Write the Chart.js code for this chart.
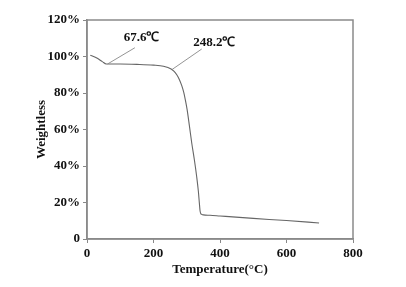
<!DOCTYPE html>
<html>
<head>
<meta charset="utf-8">
<script src="https://cdn.jsdelivr.net/npm/chart.js@4/dist/chart.umd.min.js"></script>
<style>
  html, body { margin: 0; padding: 0; background: #fff; }
  #wrap { width: 406px; height: 287px; }
</style>
</head>
<body>
<div id="wrap"><canvas id="tga" width="406" height="287"></canvas></div>
<script>
// TGA curve
var temps   = [10, 16, 31, 46, 58, 70, 100, 150, 200, 230, 253, 262, 270, 278, 285, 291, 296, 301, 308, 315, 323, 330, 335, 338, 340, 342, 345, 350, 370, 400, 500, 600, 698];
var weights = [100.6, 100.3, 99.0, 97.2, 95.9, 95.9, 95.9, 95.7, 95.3, 94.7, 93.2, 91.8, 90.0, 87.3, 84.0, 80.3, 76.0, 71.0, 62.0, 52.6, 43.3, 34.0, 26.0, 19.5, 15.5, 14.0, 13.5, 13.2, 13.0, 12.6, 11.3, 10.1, 8.8];

var xTicks = [0, 200, 400, 600, 800];
var yTicks = [0, 20, 40, 60, 80, 100, 120];

// annotations: text, point on curve, end of leader line, label centre
var noteText  = ['67.6\u2103', '248.2\u2103'];
var notePoint = [[62, 95.9], [256, 92.9]];
var noteEnd   = [[144, 104.8], [345, 104.1]];
var noteLabel = [[164, 110.2], [383, 107.5]];

var pts = [];
for (var i = 0; i < temps.length; i++) {
    pts.push({x: temps[i], y: weights[i]});
}

var font = 'Liberation Serif, Times New Roman, serif';

var frame = {
    id: 'frame',
    afterDraw: function(chart) {
        var ctx = chart.ctx;
        var a = chart.chartArea;
        ctx.save();
        ctx.strokeStyle = '#8a8a8a';
        ctx.lineWidth = 1.5;
        ctx.strokeRect(a.left, a.top, a.right - a.left, a.bottom - a.top);

        var xs = chart.scales.x, ys = chart.scales.y;
        ctx.strokeStyle = '#888';
        ctx.lineWidth = 0.9;
        ctx.fillStyle = '#111';
        ctx.font = 'bold 13px ' + font;
        ctx.textAlign = 'center';
        ctx.textBaseline = 'middle';
        for (var k = 0; k < noteText.length; k++) {
            ctx.beginPath();
            ctx.moveTo(xs.getPixelForValue(notePoint[k][0]), ys.getPixelForValue(notePoint[k][1]));
            ctx.lineTo(xs.getPixelForValue(noteEnd[k][0]), ys.getPixelForValue(noteEnd[k][1]));
            ctx.stroke();
            ctx.fillText(noteText[k], xs.getPixelForValue(noteLabel[k][0]), ys.getPixelForValue(noteLabel[k][1]));
        }
        ctx.restore();
    }
};

new Chart(document.getElementById('tga').getContext('2d'), {
    type: 'scatter',
    data: {
        datasets: [{
            data: pts,
            showLine: true,
            borderColor: '#666',
            borderWidth: 1.1,
            pointRadius: 0,
            cubicInterpolationMode: 'monotone'
        }]
    },
    options: {
        responsive: false,
        animation: false,
        events: [],
        layout: { padding: { left: 0, right: 53, top: 20, bottom: 0 } },
        plugins: { legend: { display: false }, tooltip: { enabled: false } },
        scales: {
            x: {
                type: 'linear',
                min: 0, max: 800,
                afterBuildTicks: function(s) { s.ticks = xTicks.map(function(v) { return {value: v}; }); },
                afterFit: function(s) { s.height = 48; },
                grid: { drawOnChartArea: false, drawTicks: true, tickLength: 4, color: '#888' },
                border: { color: '#888', width: 1.5 },
                ticks: { color: '#111', padding: 3, font: { family: font, size: 13, weight: 'bold' } },
                title: {
                    display: true, text: 'Temperature(\u00b0C)', color: '#111',
                    padding: { top: 0, bottom: 10 },
                    font: { family: font, size: 13, weight: 'bold' }
                }
            },
            y: {
                type: 'linear',
                min: 0, max: 120,
                afterBuildTicks: function(s) { s.ticks = yTicks.map(function(v) { return {value: v}; }); },
                afterFit: function(s) { s.width = 87; },
                grid: { drawOnChartArea: false, drawTicks: true, tickLength: 4, color: '#888' },
                border: { color: '#888', width: 1.5 },
                ticks: {
                    color: '#111', padding: 3,
                    font: { family: font, size: 13, weight: 'bold' },
                    callback: function(v) { return v === 0 ? '0' : v + '%'; }
                },
                title: {
                    display: true, text: 'Weightless', color: '#111',
                    padding: { top: 34, bottom: 0 },
                    font: { family: font, size: 13, weight: 'bold' }
                }
            }
        }
    },
    plugins: [frame]
});
</script>
</body>
</html>
